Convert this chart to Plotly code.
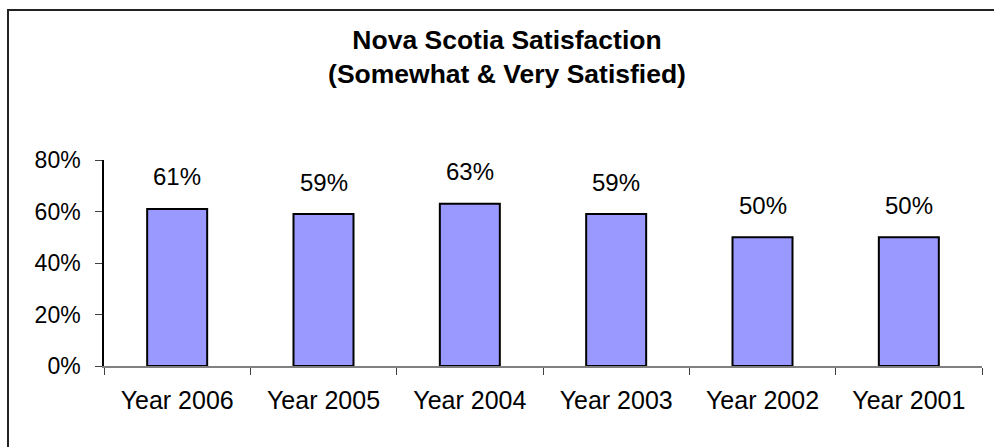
import plotly.graph_objects as go

# Survey results, most recent year first
years = ["Year 2006", "Year 2005", "Year 2004", "Year 2003", "Year 2002", "Year 2001"]
satisfied = [0.61, 0.59, 0.63, 0.59, 0.50, 0.50]
y_ticks = [0, 0.2, 0.4, 0.6, 0.8]
y_tick_text = ["0%", "20%", "40%", "60%", "80%"]

FONT = "Liberation Sans, Arial, sans-serif"

fig = go.Figure()
fig.add_trace(go.Bar(
    x=years,
    y=satisfied,
    width=0.41,
    marker=dict(color="#9999FF", line=dict(color="#000000", width=2)),
    hoverinfo="skip",
))

# value labels floating above each bar
for yr, v in zip(years, satisfied):
    fig.add_annotation(
        x=yr, y=v, text=f"{round(v * 100)}%", showarrow=False,
        yshift=32, font=dict(family=FONT, size=24, color="#000000"),
    )

# chart frame (clipped on the right and bottom edges)
fig.add_shape(type="rect", xref="paper", yref="paper",
              x0=(8 - 104) / 878, x1=(1010 - 104) / 878,
              y0=(366 - 470) / 206, y1=(366 - 10) / 206,
              line=dict(color="#222222", width=2), layer="below")

fig.update_layout(
    width=994, height=447,
    margin=dict(l=104, r=12, t=160, b=81),
    paper_bgcolor="white", plot_bgcolor="white",
    showlegend=False,
    title=dict(
        text="<b>Nova Scotia Satisfaction<br>(Somewhat &amp; Very Satisfied)</b>",
        x=(507 - 104) / 878, xanchor="center", xref="paper",
        y=(447 - 49) / 447, yanchor="middle",
        font=dict(family=FONT, size=26.5, color="#000000"),
    ),
    font=dict(family=FONT, color="#000000"),
)
fig.update_xaxes(
    showline=True, linecolor="#808080", linewidth=1.5,
    ticks="outside", tickson="boundaries", ticklen=7, tickcolor="#404040",
    tickfont=dict(family=FONT, size=25, color="#000000"),
    ticklabelstandoff=11,
    showgrid=False, zeroline=False, fixedrange=True,
)
fig.update_yaxes(
    range=[0, 0.8], tickvals=y_ticks, ticktext=y_tick_text,
    showline=True, linecolor="#000000", linewidth=1.5,
    ticks="outside", ticklen=7, tickcolor="#404040",
    tickfont=dict(family=FONT, size=23, color="#000000"),
    ticklabelstandoff=10,
    showgrid=False, zeroline=False, fixedrange=True,
)

fig.write_html("out.html", config={"displayModeBar": False})
